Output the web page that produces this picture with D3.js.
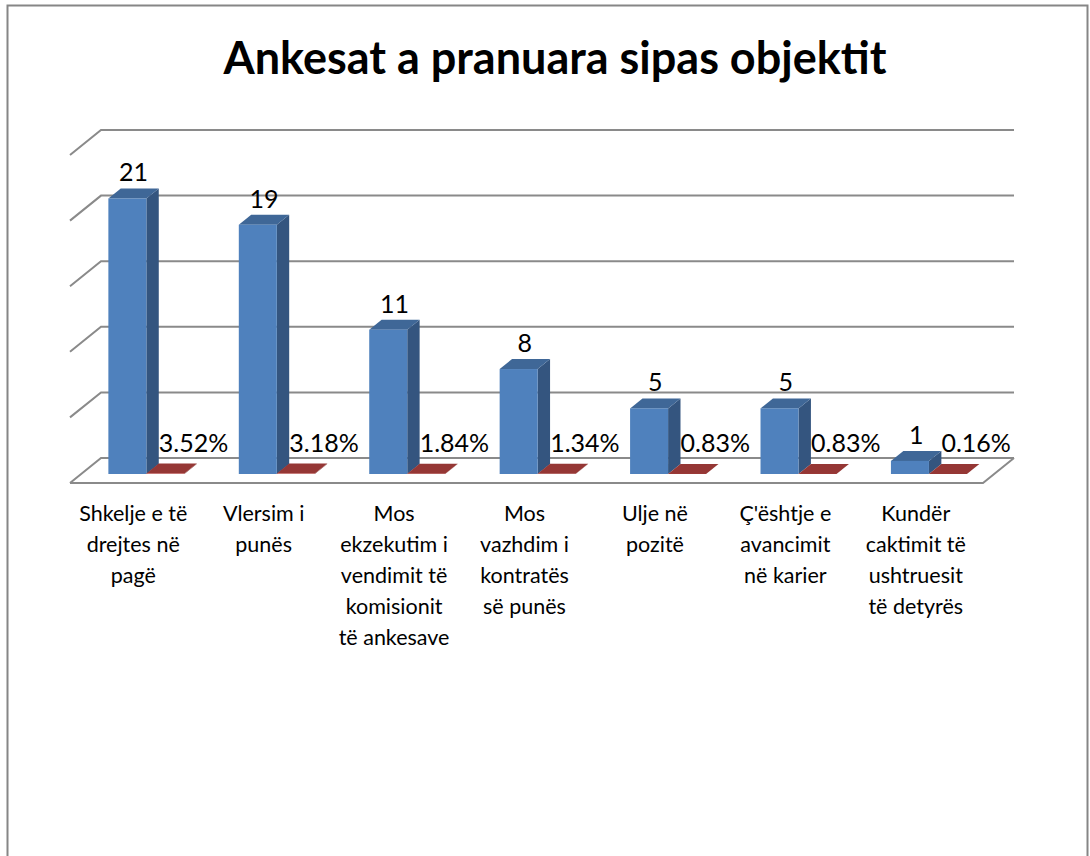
<!DOCTYPE html>
<html lang="sq">
    <head>
        <meta charset="utf-8">
        <title>Ankesat a pranuara sipas objektit</title>
        <script src="https://cdnjs.cloudflare.com/ajax/libs/d3/7.8.5/d3.min.js" charset="utf-8"></script>
        <style>
            body { margin: 0; background: #fff; }
            text { font-family: Lato, "Open Sans", sans-serif; fill: #000; }
        </style>
    </head>
    <body>
        <div id="chart"></div>
        <script>
            // te dhenat
            var categories = [
                "Shkelje e të drejtes në pagë",
                "Vlersim i punës",
                "Mos ekzekutim i vendimit të komisionit të ankesave",
                "Mos vazhdim i kontratës së punës",
                "Ulje në pozitë",
                "Ç'ështje e avancimit në karier",
                "Kundër caktimit të ushtruesit të detyrës"
            ];
            var categoryLines = [
                ["Shkelje e të", "drejtes në", "pagë"],
                ["Vlersim i", "punës"],
                ["Mos", "ekzekutim i", "vendimit të", "komisionit", "të ankesave"],
                ["Mos", "vazhdim i", "kontratës", "së punës"],
                ["Ulje në", "pozitë"],
                ["Ç'ështje e", "avancimit", "në karier"],
                ["Kundër", "caktimit të", "ushtruesit", "të detyrës"]
            ];
            var counts = [21, 19, 11, 8, 5, 5, 1];
            var shares = [0.0352, 0.0318, 0.0184, 0.0134, 0.0083, 0.0083, 0.0016];
            var yTicks = [0, 5, 10, 15, 20, 25];
            var seriesNames = ["count", "share"];

            var W = 1090, H = 856;
            var floor = { left: 70, right: 983, front: 483 };
            var depth = { dx: 31, dy: -25 };   // thellesia e plote e murit
            var d0 = 0.36, d1 = 0.76;          // ku ndodhen shtyllat ne thellesi

            var colors = {
                count: { front: "#4f81bd", side: "#34557f", top: "#3f6797" },
                share: { front: "#c0504d", side: "#7a2f2d", top: "#953735" }
            };

            var svg = d3.select("#chart").append("svg")
                .attr("width", W)
                .attr("height", H);

            svg.append("rect")
                .attr("x", 7.5).attr("y", 5.5)
                .attr("width", 1080).attr("height", 880)
                .attr("fill", "#fff")
                .attr("stroke", "#868686")
                .attr("stroke-width", 2);

            svg.append("text")
                .attr("x", 555)
                .attr("y", 74)
                .attr("text-anchor", "middle")
                .style("font-size", "45px")
                .style("font-weight", "bold")
                .text("Ankesat a pranuara sipas objektit");

            var x = d3.scaleBand()
                .domain(categories)
                .range([floor.left, floor.right]);

            var xInner = d3.scaleBand()
                .domain(seriesNames)
                .range([0, x.bandwidth()])
                .paddingOuter(0.716);

            var y = d3.scaleLinear()
                .domain([0, 25])
                .range([0, 328]);

            // gridlines ne murin e pasem dhe murin e majte
            var grid = svg.append("g").attr("class", "grid")
                .attr("stroke", "#8a8a8a")
                .attr("stroke-width", 2)
                .attr("fill", "none");

            grid.selectAll("path.gl")
                .data(yTicks)
                .enter()
                .append("path")
                .attr("class", "gl")
                .attr("d", function(t) {
                    var yb = floor.front + depth.dy - y(t);
                    var yf = floor.front - y(t);
                    return "M" + floor.left + "," + yf +
                        "L" + (floor.left + depth.dx) + "," + yb +
                        "L" + (floor.right + depth.dx) + "," + yb;
                });

            // dyshemeja
            grid.append("path")
                .attr("d", "M" + floor.left + "," + floor.front +
                    "L" + floor.right + "," + floor.front +
                    "L" + (floor.right + depth.dx) + "," + (floor.front + depth.dy));

            var bw = xInner.bandwidth();
            var ddx = depth.dx * (d1 - d0), ddy = depth.dy * (d1 - d0);

            function barGeom(cat, s, v) {
                var xa = x(cat) + xInner(s) + depth.dx * d0;
                var base = floor.front + depth.dy * d0;
                var top = base - y(v);
                return { xa: xa, xb: xa + bw, base: base, top: top };
            }

            function pts(arr) {
                return arr.map(function(p) { return p.join(","); }).join(" ");
            }

            var rows = [];
            categories.forEach(function(c, i) {
                rows.push({ cat: c, s: "count", v: counts[i] });
                rows.push({ cat: c, s: "share", v: shares[i] });
            });

            var bars = svg.selectAll(".bar")
                .data(rows)
                .enter()
                .append("g")
                .attr("class", "bar");

            bars.append("polygon")
                .attr("points", function(d) {
                    var g = barGeom(d.cat, d.s, d.v);
                    return pts([[g.xb, g.top], [g.xb + ddx, g.top + ddy], [g.xb + ddx, g.base + ddy], [g.xb, g.base]]);
                })
                .attr("fill", function(d) { return colors[d.s].side; });

            bars.append("polygon")
                .attr("points", function(d) {
                    var g = barGeom(d.cat, d.s, d.v);
                    return pts([[g.xa, g.top], [g.xb, g.top], [g.xb + ddx, g.top + ddy], [g.xa + ddx, g.top + ddy]]);
                })
                .attr("fill", function(d) { return colors[d.s].top; });

            bars.append("rect")
                .attr("x", function(d) { return barGeom(d.cat, d.s, d.v).xa; })
                .attr("y", function(d) { return barGeom(d.cat, d.s, d.v).top; })
                .attr("width", bw)
                .attr("height", function(d) { return y(d.v); })
                .attr("fill", function(d) { return colors[d.s].front; });

            // etiketat e vlerave
            var fmtPct = d3.format(".2%");
            svg.selectAll(".vlabel")
                .data(rows)
                .enter()
                .append("text")
                .attr("class", "vlabel")
                .attr("x", function(d) {
                    var g = barGeom(d.cat, d.s, d.v);
                    return g.xa + bw / 2 + ddx / 2 + (d.s == "share" ? 22 : 0);
                })
                .attr("y", function(d) {
                    var g = barGeom(d.cat, d.s, d.v);
                    return g.top + ddy - (d.s == "share" ? 12 : 7);
                })
                .attr("text-anchor", "middle")
                .style("font-size", "25px")
                .text(function(d) { return d.s == "share" ? fmtPct(d.v) : d.v; });

            // etiketat e kategorive
            var catLabels = svg.selectAll(".clabel")
                .data(categories)
                .enter()
                .append("text")
                .attr("class", "clabel")
                .attr("text-anchor", "middle")
                .style("font-size", "21.5px")
                .attr("transform", function(d) {
                    return "translate(" + (x(d) + x.bandwidth() / 2 - 2) + ",521)";
                });

            catLabels.selectAll("tspan")
                .data(function(d, i) { return categoryLines[i]; })
                .enter()
                .append("tspan")
                .attr("x", 0)
                .attr("y", function(d, i) { return i * 31; })
                .text(function(d) { return d; });
        </script>
    </body>
</html>
